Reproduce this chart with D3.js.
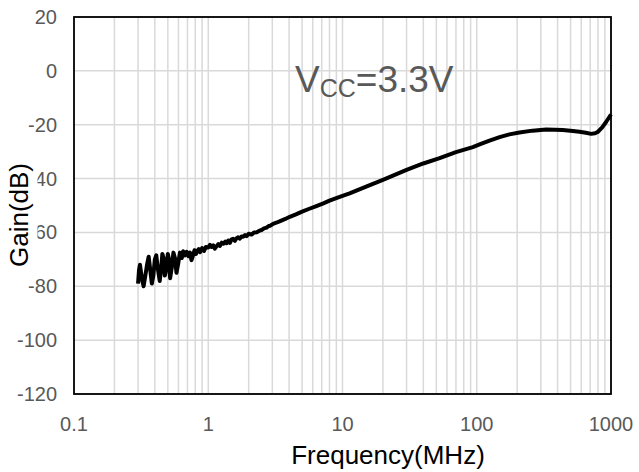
<!DOCTYPE html>
<html>
<head>
<meta charset="utf-8">
<script src="https://cdn.jsdelivr.net/npm/d3@7"></script>
<style>
  body { margin: 0; background: #fff; }
  svg { display: block; }
  text { font-family: "Liberation Sans", Arial, sans-serif; }
</style>
</head>
<body>
<div id="chart"></div>
<script>
// frequency in MHz, gain in dB
var freq = [0.30, 0.305, 0.31, 0.32, 0.33, 0.34, 0.35, 0.36, 0.37, 0.38, 0.39, 0.40, 0.41, 0.42, 0.435, 0.445,
  0.455, 0.465, 0.475, 0.49, 0.50, 0.51, 0.52, 0.535, 0.55, 0.565, 0.58, 0.60, 0.615, 0.635, 0.65, 0.67, 0.69,
  0.71, 0.73, 0.75, 0.77, 0.79, 0.81, 0.83, 0.85, 0.87, 0.90, 0.93, 0.96, 1.0, 1.03, 1.06, 1.09, 1.12, 1.15,
  1.19, 1.22, 1.26, 1.3, 1.34, 1.37, 1.41, 1.45, 1.49, 1.53, 1.58, 1.62, 1.67, 1.72, 1.77, 1.82, 1.88, 1.93,
  2.0, 2.1, 2.2, 2.3, 2.42, 2.52, 2.6, 2.72, 2.82, 2.9, 3.04, 3.25, 3.5, 3.75, 4.05, 4.5, 5.0, 5.6, 6.39, 7.2,
  8.0, 9.53, 11.3, 15, 20, 30, 40, 52.9, 70, 93.5, 105, 124.5, 148, 175, 208, 260, 329, 437, 520, 582, 650,
  711, 760, 796, 860, 919, 1000];
var gain = [-79, -74, -72, -77, -80, -76, -72, -69, -74, -79, -76, -70, -68.5, -73, -78, -74,
  -68, -69.5, -76, -73, -68, -70, -77, -73, -67.5, -69.5, -75, -71, -67.5, -69.5, -67, -68.5, -67.2,
  -68.8, -67.5, -70.3, -68.5, -66.6, -68, -66.8, -66.2, -67.3, -65.8, -66.9, -65.4, -65.6, -64.6, -65.4, -64.8, -66.0, -65.2,
  -64.3, -65.0, -63.8, -64.2, -63.4, -64.0, -63.0, -63.9, -62.6, -62.4, -63.1, -62.2, -61.8, -62.3, -61.5, -61.6, -61.0, -61.4,
  -60.5, -60.8, -60.0, -59.9, -59.3, -59.0, -58.5, -58.2, -57.6, -57.5, -56.8, -56.3, -55.6, -55.0, -54.2, -53.3, -52.3, -51.3, -50.2, -49.2,
  -48.2, -46.8, -45.5, -43.0, -40.5, -36.8, -34.4, -32.4, -30.2, -28.3, -27.3, -25.9, -24.6, -23.6, -22.9, -22.2, -21.8, -22.0, -22.3, -22.6, -23.0,
  -23.4, -23.2, -22.7, -21.0, -19.0, -16.2];

var xTicks = [0.1, 1, 10, 100, 1000];
var xTickLabels = ["0.1", "1", "10", "100", "1000"];
var yTicks = [20, 0, -20, -40, -60, -80, -100, -120];

var W = 639, H = 472;
var margin = {top: 17, right: 28, bottom: 78, left: 74};
var width = W - margin.left - margin.right,
    height = H - margin.top - margin.bottom;

var svg = d3.select("#chart").append("svg")
  .attr("width", W).attr("height", H);

var g = svg.append("g")
  .attr("transform", "translate(" + margin.left + "," + margin.top + ")");

var x = d3.scaleLog().domain([0.1, 1000]).range([0, width]);
var y = d3.scaleLinear().domain([-120, 20]).range([height, 0]);

// minor vertical grid: every integer multiple inside each decade
var gridX = [];
for (var dec = 0.1; dec < 1000; dec *= 10) {
  for (var k = 2; k <= 10; k++) gridX.push(+(dec * k).toPrecision(3));
}
g.selectAll(".vgrid").data(gridX).enter().append("line")
  .attr("x1", d => x(d)).attr("x2", d => x(d))
  .attr("y1", 0).attr("y2", height)
  .attr("stroke", "#d9d9d9").attr("stroke-width", 1.5);

g.selectAll(".hgrid").data(yTicks).enter().append("line")
  .attr("x1", 0).attr("x2", width)
  .attr("y1", d => y(d)).attr("y2", d => y(d))
  .attr("stroke", "#d9d9d9").attr("stroke-width", 1.5);

// curve
var line = d3.line()
  .x((d, i) => x(freq[i]))
  .y(d => y(d));
g.append("path")
  .datum(gain)
  .attr("d", line)
  .attr("fill", "none")
  .attr("stroke", "#000")
  .attr("stroke-width", 4)
  .attr("stroke-linejoin", "round");

// plot border
g.append("rect")
  .attr("x", 0).attr("y", 0)
  .attr("width", width).attr("height", height)
  .attr("fill", "none").attr("stroke", "#000").attr("stroke-width", 1.8);

// y tick labels
svg.selectAll(".ylab").data(yTicks).enter().append("text")
  .attr("x", 57)
  .attr("y", d => margin.top + y(d))
  .attr("dy", "0.35em")
  .attr("text-anchor", "end")
  .attr("font-size", 20)
  .attr("fill", "#595959")
  .text(d => d);

// x tick labels
svg.selectAll(".xlab").data(xTicks).enter().append("text")
  .attr("x", d => margin.left + x(d))
  .attr("y", 431)
  .attr("text-anchor", "middle")
  .attr("font-size", 20)
  .attr("fill", "#595959")
  .text((d, i) => xTickLabels[i]);

// axis titles
svg.append("text")
  .attr("x", 388).attr("y", 464)
  .attr("text-anchor", "middle")
  .attr("font-size", 26)
  .attr("fill", "#000")
  .text("Frequency(MHz)");

svg.append("rect")
  .attr("x", 2).attr("y", 158)
  .attr("width", 35.5).attr("height", 116)
  .attr("fill", "#fff");
svg.append("text")
  .attr("transform", "translate(28,215) rotate(-90)")
  .attr("text-anchor", "middle")
  .attr("font-size", 26)
  .attr("fill", "#000")
  .text("Gain(dB)");

// annotation
var ann = svg.append("text")
  .attr("x", 295).attr("y", 92)
  .attr("font-size", 37)
  .attr("fill", "#595959");
ann.append("tspan").text("V");
ann.append("tspan").attr("font-size", 25).attr("dy", 5).text("CC");
ann.append("tspan").attr("dy", -5).text("=3.3V");
</script>
</body>
</html>
